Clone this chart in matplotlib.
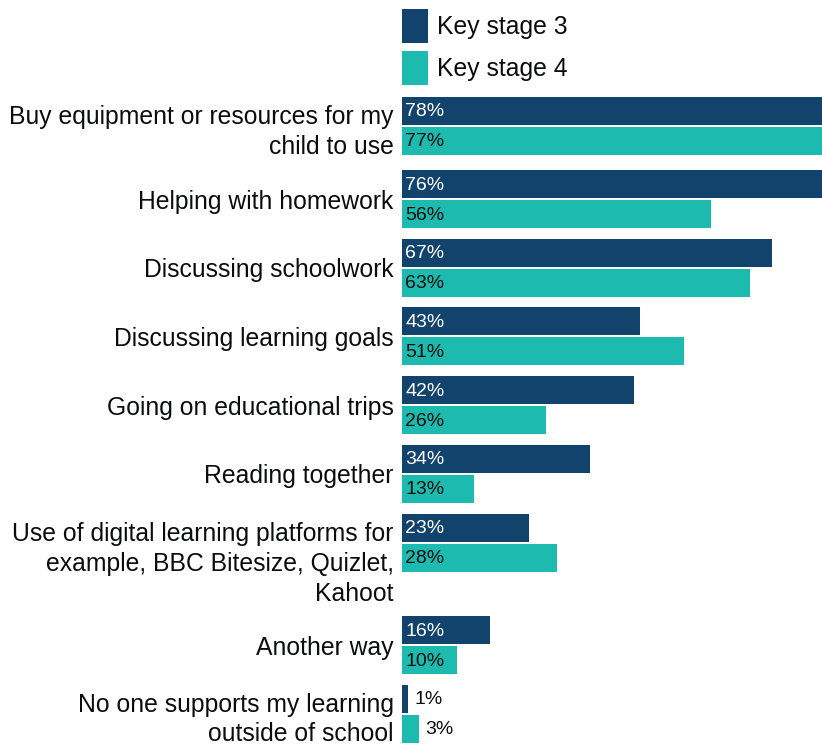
import numpy as np
import matplotlib.pyplot as plt

plt.rcParams['font.family'] = ['Liberation Sans', 'DejaVu Sans']

categories = [
    "Buy equipment or resources for my\nchild to use",
    "Helping with homework",
    "Discussing schoolwork",
    "Discussing learning goals",
    "Going on educational trips",
    "Reading together",
    "Use of digital learning platforms for\nexample, BBC Bitesize, Quizlet,\nKahoot",
    "Another way",
    "No one supports my learning\noutside of school",
]
ks3 = [78, 76, 67, 43, 42, 34, 23, 16, 1]
ks4 = [77, 56, 63, 51, 26, 13, 28, 10, 3]
series_names = ["Key stage 3", "Key stage 4"]

navy = "#12436D"
teal = "#1DBBAF"
ink = "#0b0c0c"

W, H = 822, 744
fig = plt.figure(figsize=(W / 100, H / 100), dpi=100)
ax = fig.add_axes([402 / W, 0, 1 - 402 / W, 1])

# vertical layout in pixel units; long labels get more room
bar_h = 28
line_h = 31.5
tops, label_y = [], []
y = 97
for lab in categories:
    lines = lab.count("\n") + 1
    tops.append(y)
    nudge = -2 if lines > 1 else 0
    label_y.append(y + max(2 * bar_h + 2, line_h * lines) / 2 + nudge)
    y += max(68.7, 29.5 * lines + 14)
tops = np.array(tops, dtype=float)
y3 = tops + bar_h / 2
y4 = tops + bar_h + 2 + bar_h / 2

b3 = ax.barh(y3, ks3, height=bar_h, color=navy, label=series_names[0])
b4 = ax.barh(y4, ks4, height=bar_h, color=teal, label=series_names[1])

ax.set_xlim(0, 76)
ax.set_ylim(H, 0)

ax.set_yticks(label_y, categories)
ax.tick_params(axis='y', length=0, pad=6, labelsize=17.8, labelcolor=ink)
for t in ax.get_yticklabels():
    t.set_linespacing(1.3)
ax.tick_params(axis='x', bottom=False, labelbottom=False)
for s in ax.spines.values():
    s.set_visible(False)

for bars, vals, inside_col in ((b3, ks3, 'white'), (b4, ks4, ink)):
    for bar, v in zip(bars, vals):
        yc = bar.get_y() + bar.get_height() / 2
        if v >= 5:
            ax.annotate(f"{v}%", (0, yc), xytext=(3, -1), textcoords='offset pixels',
                        ha='left', va='center', fontsize=14, color=inside_col)
        else:
            ax.annotate(f"{v}%", (v, yc), xytext=(7, -1), textcoords='offset pixels',
                        ha='left', va='center', fontsize=14, color=ink)

ax.legend(handles=[b3, b4], loc='upper left', bbox_to_anchor=(-0.014, 0.996),
          frameon=False, fontsize=17.8, handlelength=1.05, handleheight=1.75,
          handletextpad=0.35, labelspacing=0.3, borderaxespad=0.0, borderpad=0.25,
          labelcolor=ink)

fig.savefig("out.png", dpi=100)
